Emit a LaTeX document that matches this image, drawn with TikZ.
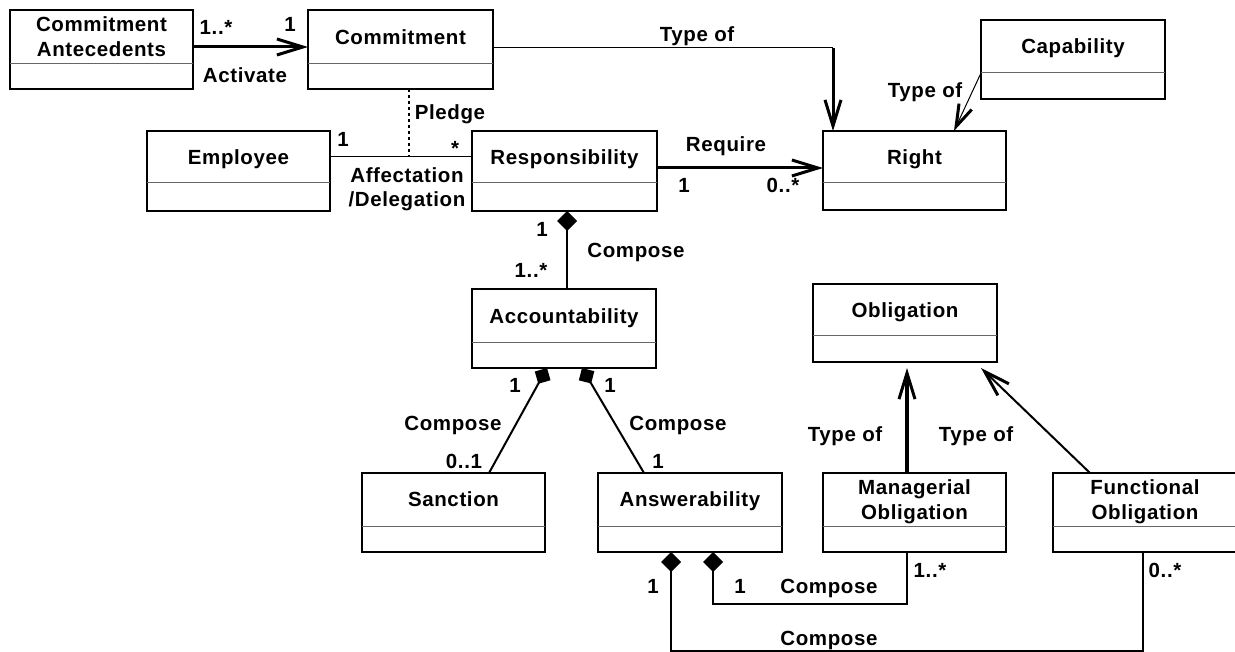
\documentclass[tikz,border=0pt]{standalone}
\usepackage{fontspec}
\setmainfont{Liberation Sans}[LetterSpace=3]
\usetikzlibrary{arrows.meta,calc}
% name, x1, y1, x2, y2, ydiv, text, vertical shift (pixels, downward)
\newcommand{\umlcls}[8]{%
  \node[clsbox, minimum width={(#4)-(#2)}, minimum height={(#5)-(#3)}] (#1) at ({((#2)+(#4))/2},{((#3)+(#5))/2}) {};
  \draw[divline] ({#2},{#6}) -- ({#4},{#6});
  \node[clstxt] (#1-t) at ({((#2)+(#4))/2},{((#3)+(#6))/2+(#8)}) {#7};
}
\begin{document}
\begin{tikzpicture}[x=1pt,y=-1pt,
  every node/.style={font=\fontsize{20.5}{25}\selectfont\bfseries, inner sep=0pt, outer sep=0pt},
  clsbox/.style={draw, line width=2.3pt, rectangle},
  clstxt/.style={align=center, text height=14.7pt, text depth=0pt},
  divline/.style={line width=1pt, draw=black!60},
  lbl/.style={anchor=base},
  barb/.style={-{Straight Barb[length=26pt,width=16pt,line width=3pt]}},
  barbsm/.style={-{Straight Barb[length=22pt,width=14pt,line width=3pt]}},
  dia/.style={{Diamond[length=20pt,width=20pt]}-},
  diasm/.style={{Diamond[length=18pt,width=18pt]}-}
]
\useasboundingbox (0,0) rectangle (1235,652);
\clip (0,0) rectangle (1235,652);

% classes
\umlcls{ant}{10}{10}{193}{89}{64}{Commitment\\Antecedents}{12.5}
\umlcls{com}{308}{10}{493}{89}{64}{Commitment}{0}
\umlcls{cap}{981}{20}{1165}{99}{73}{Capability}{0}
\umlcls{emp}{147}{131}{330}{211}{183}{Employee}{0}
\umlcls{resp}{472}{131}{657}{211}{183}{Responsibility}{0}
\umlcls{right}{823}{131}{1006}{210}{183}{Right}{0}
\umlcls{acc}{472}{289}{656}{368}{343}{Accountability}{0}
\umlcls{obl}{813}{284}{997}{362}{336}{Obligation}{0}
\umlcls{sanc}{362}{473}{545}{552}{526}{Sanction}{0}
\umlcls{ans}{598}{473}{782}{552}{526}{Answerability}{0}
\umlcls{mgr}{823}{473}{1006}{552}{526}{Managerial\\Obligation}{13}
\umlcls{fun}{1053}{473}{1237}{552}{526}{Functional\\Obligation}{13}

% Activate
\draw[line width=3pt, barb] ($(ant.east)+(0,-2.5)$) -- ($(com.west)+(0,-2.5)$);
% Commitment type of Right
\coordinate (c1) at (833,48);
\draw[line width=1pt] ($(com.east)+(0,-1.5)$) -- (c1);
\draw[line width=3pt, barb] (c1) -- (c1 |- right.north);
% Capability type of Right
\draw[line width=1pt, barbsm] ($(cap.south west)+(0,-26)$) -- ($(right.north west)+(131,0)$);
% Pledge
\coordinate (pl) at ($(emp.east)+(79,-14)$);
\draw[line width=1.5pt, dash pattern=on 3pt off 3pt] ($(com.south west)+(101,0)$) -- (pl);
% Employee - Responsibility
\draw[line width=1pt] ($(emp.east)+(0,-14)$) -- ($(resp.west)+(0,-14)$);
% Require
\draw[line width=3pt, barb] ($(resp.east)+(0,-3)$) -- ($(right.west)+(0,-2.5)$);
% Responsibility - Accountability
\draw[line width=2pt, dia] ($(resp.south)+(2.5,0)$) -- ($(acc.north)+(3,0)$);
% Accountability - Sanction / Answerability
\draw[line width=2pt, diasm] ($(acc.south)+(-17,0)$) -- ($(sanc.north)+(35.5,0)$);
\draw[line width=2pt, diasm] ($(acc.south)+(18,0)$) -- ($(ans.north)+(-46,0)$);
% Obligation generalisations
\draw[line width=3.5pt, barb] ($(mgr.north)+(-7.5,0)$) -- ($(obl.south)+(2,6)$);
\draw[line width=2pt, barb] ($(fun.north)+(-55,0)$) -- ($(obl.south east)+(-16,6)$);
% Answerability compositions
\draw[line width=1.5pt, dia] ($(ans.south)+(23,0)$) |- ($(mgr.south)+(-7.5,52)$) -- ($(mgr.south)+(-7.5,0)$);
\draw[line width=1.5pt, dia] ($(ans.south)+(-19,0)$) |- ($(fun.south)+(-2,99)$) -- ($(fun.south)+(-2,0)$);

% labels
\node[lbl] (l1) at (216,35) {1..*};
\node[lbl] (l2) at (290,32) {1};
\node[lbl] (l3) at (245,83) {Activate};
\node[lbl] (l4) at (697,42) {Type of};
\node[lbl] (l5) at (925,98) {Type of};
\node[lbl] (l6) at (450,120) {Pledge};
\node[lbl] (l7) at (343,147) {1};
\node[lbl] (l8) at (455,156) {*};
\node[lbl] (l9) at (407,183) {Affectation};
\node[lbl] (l10) at (407,207) {/Delegation};
\node[lbl] (l11) at (726,152) {Require};
\node[lbl] (l12) at (684,193) {1};
\node[lbl] (l13) at (783,193) {0..*};
\node[lbl] (l14) at (542,237) {1};
\node[lbl] (l15) at (636,258) {Compose};
\node[lbl] (l16) at (531,278) {1..*};
\node[lbl] (l17) at (515,393) {1};
\node[lbl] (l18) at (610,393) {1};
\node[lbl] (l19) at (453,430) {Compose};
\node[lbl] (l20) at (678,430) {Compose};
\node[lbl] (l21) at (464,468) {0..1};
\node[lbl] (l22) at (658,468) {1};
\node[lbl] (l23) at (845,442) {Type of};
\node[lbl] (l24) at (976,442) {Type of};
\node[lbl] (l25) at (653,593) {1};
\node[lbl] (l26) at (740,593) {1};
\node[lbl] (l27) at (829,593) {Compose};
\node[lbl] (l28) at (930,577) {1..*};
\node[lbl] (l29) at (1165,577) {0..*};
\node[lbl] (l30) at (829,645) {Compose};
\end{tikzpicture}
\end{document}
